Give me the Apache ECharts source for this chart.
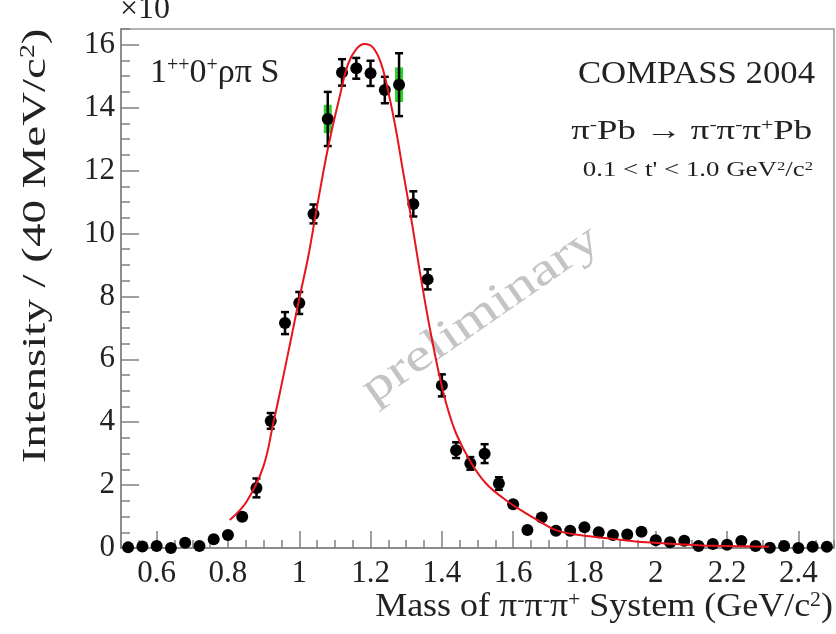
<!DOCTYPE html>
<html>
<head>
<meta charset="utf-8">
<script src="https://cdn.jsdelivr.net/npm/echarts@6/dist/echarts.min.js"></script>
<style>
  html, body { margin: 0; padding: 0; background: #fff; }
  #chart { width: 836px; height: 634px; }
</style>
</head>
<body>
<div id="chart"></div>
<script>
// bin centres (GeV/c^2), 40 MeV bins
var massBins = [0.52, 0.56, 0.60, 0.64, 0.68, 0.72, 0.76, 0.80, 0.84, 0.88,
  0.92, 0.96, 1.00, 1.04, 1.08, 1.12, 1.16, 1.20, 1.24, 1.28,
  1.32, 1.36, 1.40, 1.44, 1.48, 1.52, 1.56, 1.60, 1.64, 1.68,
  1.72, 1.76, 1.80, 1.84, 1.88, 1.92, 1.96, 2.00, 2.04, 2.08,
  2.12, 2.16, 2.20, 2.24, 2.28, 2.32, 2.36, 2.40, 2.44, 2.48];
var intensity = [0.02, 0.05, 0.06, 0.00, 0.17, 0.06, 0.28, 0.41, 0.99, 1.91,
  4.04, 7.15, 7.79, 10.62, 13.64, 15.12, 15.25, 15.09, 14.56, 14.73,
  10.94, 8.54, 5.17, 3.11, 2.69, 3.00, 2.05, 1.39, 0.57, 0.97,
  0.55, 0.55, 0.66, 0.50, 0.41, 0.43, 0.52, 0.25, 0.18, 0.23,
  0.06, 0.13, 0.10, 0.22, 0.06, 0.01, 0.06, 0.00, 0.04, 0.04];
var statErr = [0.05, 0.05, 0.05, 0.05, 0.05, 0.05, 0.05, 0.06, 0.10, 0.30,
  0.25, 0.35, 0.35, 0.30, 0.86, 0.42, 0.33, 0.40, 0.42, 1.00,
  0.40, 0.32, 0.35, 0.25, 0.20, 0.30, 0.20, 0.10, 0.08, 0.08,
  0.08, 0.08, 0.08, 0.08, 0.08, 0.08, 0.08, 0.08, 0.08, 0.08,
  0.08, 0.08, 0.08, 0.08, 0.08, 0.08, 0.08, 0.08, 0.08, 0.08];
// systematic bands (green)
var sysBins = [1.08, 1.28];
var sysVals = [13.64, 14.73];
var sysErr = [0.45, 0.55];
// fit curve
var fitX = [0.805, 0.852, 0.899, 0.927, 0.955, 0.978, 1.001, 1.025, 1.048, 1.081,
  1.113, 1.137, 1.160, 1.183, 1.207, 1.230, 1.253, 1.272, 1.290, 1.310,
  1.328, 1.347, 1.366, 1.389, 1.412, 1.440, 1.478, 1.524, 1.580, 1.636,
  1.674, 1.720, 1.786, 1.879, 1.973, 2.066, 2.159, 2.318];
var fitY = [0.89, 1.47, 2.58, 3.96, 5.44, 6.71, 7.98, 9.25, 10.73, 12.74,
  14.33, 15.39, 15.86, 16.02, 15.91, 15.39, 14.33, 13.25, 12.05, 10.75,
  9.50, 8.20, 7.00, 5.70, 4.60, 3.64, 2.79, 2.05, 1.52, 1.10,
  0.85, 0.57, 0.41, 0.29, 0.18, 0.12, 0.07, 0.04];
var xTicks = [0.6, 0.8, 1.0, 1.2, 1.4, 1.6, 1.8, 2.0, 2.2, 2.4];
var yTicks = [0, 2, 4, 6, 8, 10, 12, 14, 16];

var serif = '"Liberation Serif", "DejaVu Serif", serif';
var axisGray = '#808080';

var chart = echarts.init(document.getElementById('chart'), null, { renderer: 'canvas' });

var pts = massBins.map(function (m, i) { return [m, intensity[i]]; });
var errs = massBins.map(function (m, i) { return [m, intensity[i] - statErr[i], intensity[i] + statErr[i]]; });
var sys = sysBins.map(function (m, i) { return [m, sysVals[i] - sysErr[i], sysVals[i] + sysErr[i]]; });
var fit = fitX.map(function (m, i) { return [m, fitY[i]]; });

function fmt(v) { return String(+v.toFixed(1)); }

var option = {
  animation: false,
  backgroundColor: '#fff',
  grid: { left: 121, right: 2, top: 29, bottom: 86, show: true, borderColor: '#999', borderWidth: 1.5, backgroundColor: 'transparent' },
  xAxis: [
    {
      type: 'value', min: 0.5, max: 2.5,
      axisLine: { onZero: false, lineStyle: { color: axisGray, width: 1.5 } },
      axisTick: { inside: true, length: 17, customValues: xTicks, lineStyle: { color: axisGray, width: 1.5 } },
      axisLabel: { customValues: xTicks, formatter: fmt, margin: 10, color: '#222', fontFamily: serif, fontSize: 31 },
      splitLine: { show: false }
    },
    {
      type: 'value', min: 0.5, max: 2.5, interval: 0.05, position: 'bottom',
      axisLine: { show: false },
      axisTick: { inside: true, length: 8, lineStyle: { color: axisGray, width: 1.5 } },
      axisLabel: { show: false },
      splitLine: { show: false }
    }
  ],
  yAxis: [
    {
      type: 'value', min: 0, max: 16.5,
      axisLine: { show: true, onZero: false, lineStyle: { color: axisGray, width: 1.5 } },
      axisTick: { show: true, inside: true, length: 18, customValues: yTicks, lineStyle: { color: axisGray, width: 1.5 } },
      axisLabel: { customValues: yTicks, margin: 6, color: '#222', fontFamily: serif, fontSize: 31 },
      splitLine: { show: false }
    },
    {
      type: 'value', min: 0, max: 16.5, interval: 0.5, position: 'left',
      axisLine: { show: false },
      axisTick: { show: true, inside: true, length: 9, lineStyle: { color: axisGray, width: 1.5 } },
      axisLabel: { show: false },
      splitLine: { show: false }
    }
  ],
  series: [
    {
      type: 'custom', name: 'sys', data: sys, z: 2,
      renderItem: function (params, api) {
        var top = api.coord([api.value(0), api.value(2)]);
        var bot = api.coord([api.value(0), api.value(1)]);
        return { type: 'rect', shape: { x: top[0] - 4, y: top[1], width: 8, height: bot[1] - top[1] }, style: { fill: '#2ecc2e' } };
      }
    },
    {
      type: 'custom', name: 'stat', data: errs, z: 3,
      renderItem: function (params, api) {
        var top = api.coord([api.value(0), api.value(2)]);
        var bot = api.coord([api.value(0), api.value(1)]);
        var c = 4, st = { stroke: '#000', lineWidth: 2.5 };
        return { type: 'group', children: [
          { type: 'line', shape: { x1: top[0], y1: top[1], x2: bot[0], y2: bot[1] }, style: st },
          { type: 'line', shape: { x1: top[0] - c, y1: top[1], x2: top[0] + c, y2: top[1] }, style: st },
          { type: 'line', shape: { x1: bot[0] - c, y1: bot[1], x2: bot[0] + c, y2: bot[1] }, style: st }
        ] };
      }
    },
    {
      type: 'scatter', name: 'data', data: pts, z: 4,
      symbol: 'circle', symbolSize: 12,
      itemStyle: { color: '#000', opacity: 1 }
    },
    {
      type: 'line', name: 'fit', data: fit, z: 5,
      smooth: 0.4, showSymbol: false,
      lineStyle: { color: '#e8141c', width: 2 }
    }
  ],
  graphic: [
    { type: 'text', x: 120, y: 26, style: { text: '×10', font: '32px ' + serif, fill: '#222', align: 'left', verticalAlign: 'bottom' } },
    { type: 'text', x: 36, y: 246, rotation: Math.PI / 2, scaleX: 1.38,
      style: { text: '{n|Intensity / (40 MeV/c}{s|2}{n|)}', align: 'center', verticalAlign: 'middle', fill: '#222',
        rich: { n: { fontSize: 34, fontFamily: serif, fill: '#222' }, s: { fontSize: 20, fontFamily: serif, verticalAlign: 'top', fill: '#222' } } } },
    { type: 'text', x: 833, y: 624, scaleX: 1.09,
      style: { text: '{n|Mass of π}{s|-}{n|π}{s|-}{n|π}{s|+}{n| System (GeV/c}{s|2}{n|)}', align: 'right', verticalAlign: 'bottom', fill: '#222',
        rich: { n: { fontSize: 33, fontFamily: serif, fill: '#222' }, s: { fontSize: 20, fontFamily: serif, verticalAlign: 'top', fill: '#222' } } } },
    { type: 'text', x: 150, y: 90,
      style: { text: '{n|1}{s|++}{n|0}{s|+}{n|ρπ S}', align: 'left', verticalAlign: 'bottom', fill: '#222',
        rich: { n: { fontSize: 34, fontFamily: serif, fill: '#222' }, s: { fontSize: 20, fontFamily: serif, verticalAlign: 'top', fill: '#222' } } } },
    { type: 'text', x: 815, y: 90, scaleX: 1.12,
      style: { text: 'COMPASS 2004', font: '31px ' + serif, fill: '#222', align: 'right', verticalAlign: 'bottom' } },
    { type: 'text', x: 812, y: 145, scaleX: 1.36,
      style: { text: '{n|π}{s|-}{n|Pb → π}{s|-}{n|π}{s|-}{n|π}{s|+}{n|Pb}', align: 'right', verticalAlign: 'bottom', fill: '#222',
        rich: { n: { fontSize: 27, fontFamily: serif, fill: '#222' }, s: { fontSize: 16, fontFamily: serif, verticalAlign: 'top', fill: '#222' } } } },
    { type: 'text', x: 813, y: 181, scaleX: 1.28,
      style: { text: '{n|0.1 < t\' < 1.0 GeV}{s|2}{n|/c}{s|2}', align: 'right', verticalAlign: 'bottom', fill: '#222',
        rich: { n: { fontSize: 21, fontFamily: serif, fill: '#222' }, s: { fontSize: 13, fontFamily: serif, verticalAlign: 'top', fill: '#222' } } } },
    { type: 'text', x: 481, y: 315, rotation: 0.606, scaleX: 1.3, z: 1,
      style: { text: 'preliminary', font: '46px ' + serif, fill: '#c4c4c4', align: 'center', verticalAlign: 'middle' } }
  ]
};
chart.setOption(option);
</script>
</body>
</html>
